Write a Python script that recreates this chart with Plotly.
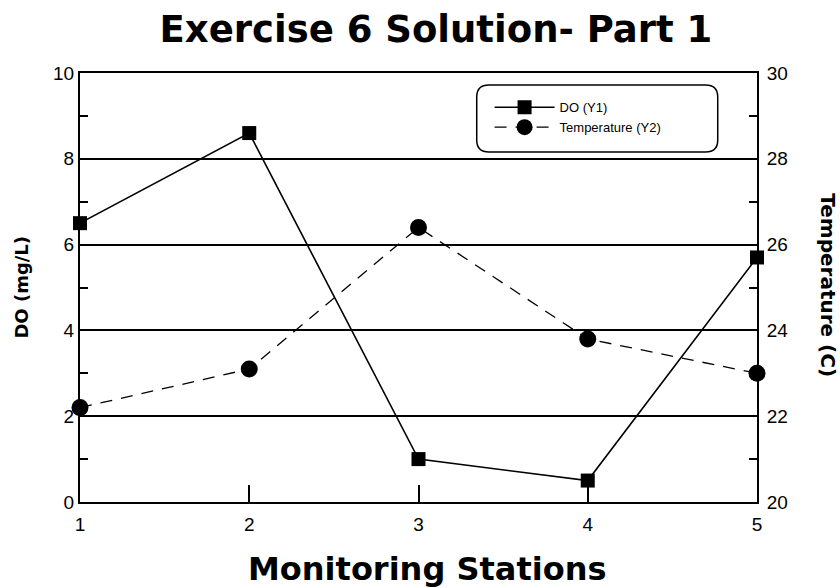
import plotly.graph_objects as go

# Monitoring data
stations = [1, 2, 3, 4, 5]
do_mg_l = [6.5, 8.6, 1.0, 0.5, 5.7]
temperature_c = [22.2, 23.1, 26.4, 23.8, 23.0]

FONT = "Liberation Sans, Arial, sans-serif"
BOLD_FONT = "DejaVu Sans, Liberation Sans, sans-serif"

fig = go.Figure()

fig.add_trace(go.Scatter(
    x=stations, y=do_mg_l, name="DO (Y1)",
    mode="lines+markers",
    line=dict(color="black", width=1.6),
    marker=dict(symbol="square", size=14, color="black"),
    cliponaxis=False,
))
fig.add_trace(go.Scatter(
    x=stations, y=temperature_c, name="Temperature (Y2)", yaxis="y2",
    mode="lines+markers",
    line=dict(color="black", width=1.3, dash="12px,9px"),
    marker=dict(symbol="circle", size=17, color="black"),
    cliponaxis=False,
))

axis_common = dict(
    showline=True, linecolor="black", linewidth=2,
    tickfont=dict(family=FONT, size=19, color="black"),
    zeroline=False,
)

fig.update_layout(
    width=840, height=588,
    margin=dict(l=80, r=83, t=73, b=86),
    paper_bgcolor="white", plot_bgcolor="white",
    title=dict(
        text="<b>Exercise 6 Solution- Part 1</b>",
        x=0.519, xanchor="center", y=0.951, yanchor="middle",
        font=dict(family=BOLD_FONT, size=37, color="black"),
    ),
    xaxis=dict(
        range=[1, 5], tickvals=stations, ticks="inside", ticklen=17,
        tickwidth=2, tickcolor="black", showgrid=False, mirror=True,
        ticklabelstandoff=4,
        **axis_common,
    ),
    yaxis=dict(
        range=[0, 10], dtick=2, ticks="inside", ticklen=8, tickwidth=2,
        tickcolor="black", showgrid=True, gridcolor="black", gridwidth=2,
        minor=dict(dtick=1, ticks="inside", ticklen=8, tickwidth=2,
                   tickcolor="black", showgrid=False),
        **axis_common,
    ),
    yaxis2=dict(
        range=[20, 30], dtick=2, overlaying="y", side="right",
        ticks="inside", ticklen=8, tickwidth=2, tickcolor="black",
        showgrid=False, ticklabelstandoff=4,
        minor=dict(dtick=1, ticks="inside", ticklen=8, tickwidth=2,
                   tickcolor="black"),
        **axis_common,
    ),
    showlegend=True,
    legend=dict(
        x=0.605, y=0.955, xanchor="left", yanchor="top",
        bgcolor="rgba(0,0,0,0)", borderwidth=0,
        font=dict(family=FONT, size=13, color="black"),
        itemwidth=60, tracegroupgap=0,
    ),
)

# Rounded frame around the legend (paper coordinates)
x0, x1, y0, y1 = 0.586, 0.942, 0.816, 0.972
rx, ry = 0.018, 0.028
path = (
    f"M {x0+rx},{y1} L {x1-rx},{y1} Q {x1},{y1} {x1},{y1-ry} "
    f"L {x1},{y0+ry} Q {x1},{y0} {x1-rx},{y0} "
    f"L {x0+rx},{y0} Q {x0},{y0} {x0},{y0+ry} "
    f"L {x0},{y1-ry} Q {x0},{y1} {x0+rx},{y1} Z"
)
fig.add_shape(type="path", path=path, xref="paper", yref="paper",
              line=dict(color="black", width=1.5), fillcolor="white",
              layer="above")

# Axis titles
fig.add_annotation(text="<b>Monitoring Stations</b>", xref="paper", yref="paper",
                   x=0.513, y=-0.157, xanchor="center", yanchor="middle",
                   showarrow=False, font=dict(family=BOLD_FONT, size=32, color="black"))
fig.add_annotation(text="<b>DO (mg/L)</b>", xref="paper", yref="paper",
                   x=-0.087, y=0.5, xanchor="center", yanchor="middle",
                   textangle=-90, showarrow=False,
                   font=dict(family=BOLD_FONT, size=18, color="black"))
fig.add_annotation(text="<b>Temperature (C)</b>", xref="paper", yref="paper",
                   x=1.105, y=0.505, xanchor="center", yanchor="middle",
                   textangle=90, showarrow=False,
                   font=dict(family=BOLD_FONT, size=20, color="black"))

fig.write_html("out.html")
